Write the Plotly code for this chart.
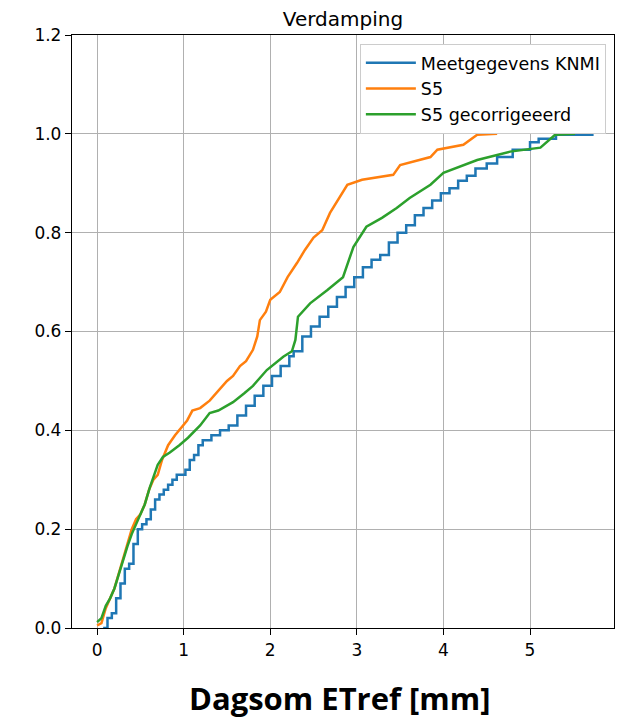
import plotly.graph_objects as go

# Meetgegevens KNMI
knmi_x = [0.07, 0.12, 0.17, 0.22, 0.27, 0.32, 0.37, 0.42, 0.47, 0.52, 0.57, 0.62, 0.67, 0.72, 0.77,
          0.82, 0.87, 0.92, 0.97, 1.02, 1.07, 1.12, 1.17, 1.22, 1.32, 1.42, 1.52, 1.62, 1.72, 1.82,
          1.92, 2.02, 2.12, 2.22, 2.27, 2.37, 2.47, 2.57, 2.67, 2.77, 2.87, 2.97, 3.07, 3.17, 3.27,
          3.37, 3.47, 3.57, 3.67, 3.77, 3.87, 3.97, 4.07, 4.17, 4.27, 4.37, 4.5, 4.62, 4.8, 5.0,
          5.1, 5.3, 5.72]
knmi_y = [0.0, 0.02, 0.03, 0.06, 0.09, 0.12, 0.13, 0.17, 0.20, 0.21, 0.22, 0.24, 0.26, 0.27, 0.28,
          0.29, 0.30, 0.31, 0.31, 0.32, 0.34, 0.35, 0.37, 0.38, 0.39, 0.40, 0.41, 0.43, 0.45, 0.47,
          0.49, 0.51, 0.53, 0.55, 0.56, 0.59, 0.61, 0.63, 0.65, 0.67, 0.69, 0.71, 0.73, 0.745, 0.755,
          0.78, 0.80, 0.815, 0.835, 0.85, 0.865, 0.88, 0.89, 0.905, 0.915, 0.93, 0.94, 0.953, 0.968, 0.983,
          0.99, 0.998, 1.0]

# S5
s5_x = [0.0, 0.05, 0.1, 0.15, 0.2, 0.25, 0.3, 0.35, 0.4, 0.45, 0.5, 0.55, 0.6, 0.65, 0.7, 0.75,
        0.82, 0.9, 1.0, 1.04, 1.1, 1.19, 1.3, 1.4, 1.5, 1.57, 1.65, 1.72, 1.80, 1.85, 1.88, 1.95,
        2.0, 2.11, 2.2, 2.31, 2.40, 2.5, 2.6, 2.69, 2.8, 2.89, 3.06, 3.42, 3.50, 3.7, 3.85, 3.93,
        4.23, 4.39, 4.62]
s5_y = [0.005, 0.01, 0.04, 0.06, 0.08, 0.11, 0.14, 0.17, 0.2, 0.22, 0.23, 0.25, 0.28, 0.30, 0.31, 0.34,
        0.37, 0.39, 0.41, 0.42, 0.44, 0.445, 0.46, 0.48, 0.50, 0.51, 0.53, 0.54, 0.563, 0.59, 0.623, 0.64,
        0.664, 0.68, 0.71, 0.739, 0.765, 0.79, 0.805, 0.84, 0.87, 0.897, 0.907, 0.917, 0.937, 0.946, 0.953, 0.968,
        0.978, 0.998, 1.0]

# S5 gecorrigeeerd
s5c_x = [0.0, 0.05, 0.1, 0.15, 0.2, 0.25, 0.3, 0.35, 0.4, 0.45, 0.5, 0.55, 0.61, 0.66, 0.7, 0.76,
         0.84, 0.95, 1.05, 1.19, 1.30, 1.4, 1.57, 1.7, 1.80, 1.96, 2.15, 2.25, 2.29, 2.32, 2.46, 2.66,
         2.84, 2.96, 3.11, 3.29, 3.46, 3.61, 3.85, 4.0, 4.19, 4.39, 4.62, 4.77, 5.12, 5.29, 5.52]
s5c_y = [0.012, 0.02, 0.045, 0.06, 0.08, 0.11, 0.14, 0.165, 0.19, 0.21, 0.23, 0.25, 0.285, 0.31, 0.33, 0.346,
         0.355, 0.37, 0.385, 0.41, 0.435, 0.44, 0.457, 0.475, 0.49, 0.522, 0.549, 0.56, 0.583, 0.63, 0.657, 0.684,
         0.71, 0.771, 0.812, 0.83, 0.85, 0.87, 0.897, 0.921, 0.933, 0.947, 0.957, 0.964, 0.972, 0.998, 1.0]

x_ticks = [0, 1, 2, 3, 4, 5]
y_ticks = [0.0, 0.2, 0.4, 0.6, 0.8, 1.0, 1.2]

fig = go.Figure()
fig.add_trace(go.Scatter(x=knmi_x, y=knmi_y, mode="lines", name="Meetgegevens KNMI",
                         line=dict(color="#1f77b4", width=2.5, shape="hv")))
fig.add_trace(go.Scatter(x=s5_x, y=s5_y, mode="lines", name="S5",
                         line=dict(color="#ff7f0e", width=2.5)))
fig.add_trace(go.Scatter(x=s5c_x, y=s5c_y, mode="lines", name="S5 gecorrigeeerd",
                         line=dict(color="#2ca02c", width=2.5)))

axis_common = dict(showline=True, linecolor="black", linewidth=1.3, mirror=True,
                   ticks="outside", ticklen=6, tickwidth=1.2, tickcolor="black",
                   showgrid=True, gridcolor="#b0b0b0", gridwidth=1.1, zeroline=False,
                   tickfont=dict(family="DejaVu Sans", size=17, color="black"))

fig.update_xaxes(range=[-0.29, 5.97], tickvals=x_ticks, **axis_common)
fig.update_yaxes(range=[0, 1.2], tickvals=y_ticks, tickformat=".1f", **axis_common)

# page body adds an 8px offset, so figure is sized/margined to compensate
fig.update_layout(
    width=615, height=714,
    margin=dict(l=64, r=9, t=27, b=94, autoexpand=False),
    paper_bgcolor="white", plot_bgcolor="white",
    title=dict(text="Verdamping", xref="paper", x=0.5, xanchor="center",
               yref="container", y=0.994, yanchor="top", pad=dict(t=0, b=0),
               font=dict(family="DejaVu Sans", size=20, color="black")),
    legend=dict(x=0.985, y=0.985, xanchor="right", yanchor="top",
                bgcolor="white", bordercolor="#cccccc", borderwidth=1,
                font=dict(family="DejaVu Sans", size=17.5, color="black"),
                itemwidth=50, tracegroupgap=0),
    showlegend=True,
    annotations=[dict(text="<b>Dagsom ETref [mm]</b>", xref="paper", yref="paper",
                      x=0.494, y=-0.157, xanchor="center", yanchor="bottom", showarrow=False,
                      font=dict(family="Open Sans", size=31, color="black"))],
)

fig.write_html("out.html")
